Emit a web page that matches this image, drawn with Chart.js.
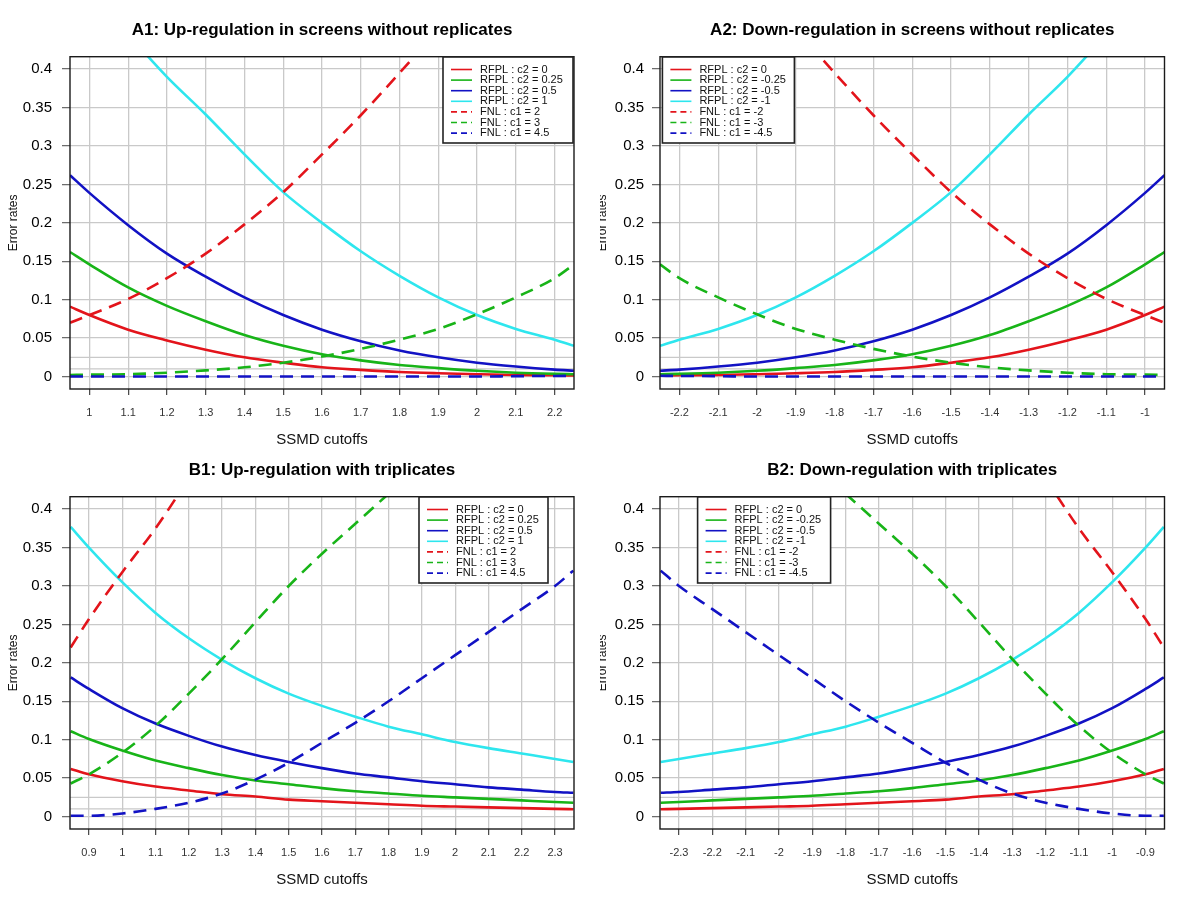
<!DOCTYPE html>
<html>
<head>
<meta charset="utf-8">
<script src="https://cdn.jsdelivr.net/npm/chart.js@4.4.1/dist/chart.umd.min.js"></script>
<style>
  html, body { margin: 0; padding: 0; background: #fff; }
  #wrap { position: relative; width: 1200px; height: 900px; }
  canvas { position: absolute; }
</style>
</head>
<body>
<div id="wrap">
  <canvas id="a1" width="600" height="450" style="left:0;top:0"></canvas>
  <canvas id="a2" width="600" height="450" style="left:600px;top:0"></canvas>
  <canvas id="b1" width="600" height="450" style="left:0;top:450px"></canvas>
  <canvas id="b2" width="600" height="450" style="left:600px;top:450px"></canvas>
</div>
<script>
// ══ DATA ═════════════════════════════════════════════════════════
const yTicks = [0, 0.05, 0.1, 0.15, 0.2, 0.25, 0.3, 0.35, 0.4];
const refLevels = [0.01, 0.025];

const xTicksA1 = [1, 1.1, 1.2, 1.3, 1.4, 1.5, 1.6, 1.7, 1.8, 1.9, 2, 2.1, 2.2];
const xTicksA2 = [-2.2, -2.1, -2, -1.9, -1.8, -1.7, -1.6, -1.5, -1.4, -1.3, -1.2, -1.1, -1];
const xTicksB1 = [0.9, 1, 1.1, 1.2, 1.3, 1.4, 1.5, 1.6, 1.7, 1.8, 1.9, 2, 2.1, 2.2, 2.3];
const xTicksB2 = [-2.3, -2.2, -2.1, -2, -1.9, -1.8, -1.7, -1.6, -1.5, -1.4, -1.3, -1.2, -1.1, -1, -0.9];

const labelsUp = ['RFPL : c2 = 0', 'RFPL : c2 = 0.25', 'RFPL : c2 = 0.5', 'RFPL : c2 = 1',
                  'FNL : c1 = 2', 'FNL : c1 = 3', 'FNL : c1 = 4.5'];
const labelsDown = ['RFPL : c2 = 0', 'RFPL : c2 = -0.25', 'RFPL : c2 = -0.5', 'RFPL : c2 = -1',
                    'FNL : c1 = -2', 'FNL : c1 = -3', 'FNL : c1 = -4.5'];

// A1: up-regulation, no replicates
const xA1 = [0.95, 1.0, 1.1, 1.2, 1.3, 1.4, 1.5, 1.6, 1.7, 1.8, 1.9, 2.0, 2.1, 2.2, 2.25];
const a1Rfpl0   = [0.091, 0.080, 0.061, 0.047, 0.035, 0.025, 0.018, 0.012, 0.0087, 0.006, 0.0043, 0.003, 0.002, 0.0017, 0.0015];
const a1Rfpl025 = [0.162, 0.146, 0.116, 0.092, 0.072, 0.054, 0.040, 0.029, 0.021, 0.015, 0.011, 0.0075, 0.005, 0.0035, 0.003];
const a1Rfpl05  = [0.262, 0.239, 0.197, 0.160, 0.130, 0.103, 0.080, 0.061, 0.046, 0.034, 0.025, 0.018, 0.013, 0.009, 0.0075];
const a1Rfpl1   = [null, null, 0.445, 0.390, 0.341, 0.289, 0.240, 0.200, 0.163, 0.131, 0.103, 0.080, 0.062, 0.048, 0.040];
const a1Fnl2    = [0.070, 0.080, 0.101, 0.128, 0.160, 0.198, 0.240, 0.289, 0.340, 0.395, 0.452, null, null, null, null];
const a1Fnl3    = [0.002, 0.0025, 0.003, 0.005, 0.008, 0.012, 0.018, 0.026, 0.036, 0.048, 0.062, 0.081, 0.103, 0.128, 0.146];
const a1Fnl45   = [0, 0, 0, 0, 0, 0, 0, 0, 0, 0, 0, 0, 0.0005, 0.0008, 0.001];

// A2: down-regulation, no replicates
const xA2 = [-2.25, -2.2, -2.1, -2.0, -1.9, -1.8, -1.7, -1.6, -1.5, -1.4, -1.3, -1.2, -1.1, -1.0, -0.95];
const a2Rfpl0   = [0.0015, 0.0017, 0.002, 0.003, 0.0043, 0.006, 0.0087, 0.012, 0.018, 0.025, 0.035, 0.047, 0.061, 0.080, 0.091];
const a2Rfpl025 = [0.003, 0.0035, 0.005, 0.0075, 0.011, 0.015, 0.021, 0.029, 0.040, 0.054, 0.072, 0.092, 0.116, 0.146, 0.162];
const a2Rfpl05  = [0.0075, 0.009, 0.013, 0.018, 0.025, 0.034, 0.046, 0.061, 0.080, 0.103, 0.130, 0.160, 0.197, 0.239, 0.262];
const a2Rfpl1   = [0.040, 0.048, 0.062, 0.080, 0.103, 0.131, 0.163, 0.200, 0.240, 0.289, 0.341, 0.390, 0.445, null, null];
const a2Fnl2    = [null, null, null, null, 0.452, 0.395, 0.340, 0.289, 0.240, 0.198, 0.160, 0.128, 0.101, 0.080, 0.070];
const a2Fnl3    = [0.146, 0.128, 0.103, 0.081, 0.062, 0.048, 0.036, 0.026, 0.018, 0.012, 0.008, 0.005, 0.003, 0.0025, 0.002];
const a2Fnl45   = [0.001, 0.0008, 0.0005, 0, 0, 0, 0, 0, 0, 0, 0, 0, 0, 0, 0];

// B1: up-regulation, triplicates
const xB1 = [0.845, 0.9, 1.0, 1.1, 1.2, 1.3, 1.4, 1.5, 1.6, 1.7, 1.8, 1.9, 2.0, 2.1, 2.2, 2.3, 2.355];
const b1Rfpl0   = [0.062, 0.055, 0.046, 0.039, 0.034, 0.029, 0.026, 0.022, 0.020, 0.018, 0.016, 0.014, 0.013, 0.012, 0.011, 0.010, 0.0095];
const b1Rfpl025 = [0.111, 0.101, 0.086, 0.073, 0.063, 0.054, 0.047, 0.042, 0.037, 0.033, 0.030, 0.027, 0.025, 0.023, 0.021, 0.019, 0.018];
const b1Rfpl05  = [0.181, 0.166, 0.141, 0.121, 0.105, 0.091, 0.080, 0.071, 0.063, 0.056, 0.051, 0.046, 0.042, 0.038, 0.035, 0.032, 0.031];
const b1Rfpl1   = [0.377, 0.350, 0.305, 0.265, 0.232, 0.204, 0.180, 0.160, 0.144, 0.130, 0.117, 0.107, 0.097, 0.089, 0.082, 0.075, 0.071];
const b1Fnl2    = [0.220, 0.257, 0.318, 0.375, 0.440, null, null, null, null, null, null, null, null, null, null, null, null];
const b1Fnl3    = [0.043, 0.055, 0.083, 0.118, 0.160, 0.205, 0.253, 0.300, 0.342, 0.381, 0.420, null, null, null, null, null, null];
const b1Fnl45   = [0.001, 0.001, 0.004, 0.010, 0.018, 0.030, 0.048, 0.070, 0.096, 0.122, 0.150, 0.180, 0.210, 0.240, 0.270, 0.300, 0.320];

// B2: down-regulation, triplicates
const xB2 = [-2.355, -2.3, -2.2, -2.1, -2.0, -1.9, -1.8, -1.7, -1.6, -1.5, -1.4, -1.3, -1.2, -1.1, -1.0, -0.9, -0.845];
const b2Rfpl0   = [0.0095, 0.010, 0.011, 0.012, 0.013, 0.014, 0.016, 0.018, 0.020, 0.022, 0.026, 0.029, 0.034, 0.039, 0.046, 0.055, 0.062];
const b2Rfpl025 = [0.018, 0.019, 0.021, 0.023, 0.025, 0.027, 0.030, 0.033, 0.037, 0.042, 0.047, 0.054, 0.063, 0.073, 0.086, 0.101, 0.111];
const b2Rfpl05  = [0.031, 0.032, 0.035, 0.038, 0.042, 0.046, 0.051, 0.056, 0.063, 0.071, 0.080, 0.091, 0.105, 0.121, 0.141, 0.166, 0.181];
const b2Rfpl1   = [0.071, 0.075, 0.082, 0.089, 0.097, 0.107, 0.117, 0.130, 0.144, 0.160, 0.180, 0.204, 0.232, 0.265, 0.305, 0.350, 0.377];
const b2Fnl2    = [null, null, null, null, null, null, null, null, null, null, null, null, 0.440, 0.375, 0.318, 0.257, 0.220];
const b2Fnl3    = [null, null, null, null, null, null, 0.420, 0.381, 0.342, 0.300, 0.253, 0.205, 0.160, 0.118, 0.083, 0.055, 0.043];
const b2Fnl45   = [0.320, 0.300, 0.270, 0.240, 0.210, 0.180, 0.150, 0.122, 0.096, 0.070, 0.048, 0.030, 0.018, 0.010, 0.004, 0.001, 0.001];

// ══ STYLE ════════════════════════════════════════════════════════
const FONT = '"Liberation Sans", Arial, Helvetica, sans-serif';
const seriesColors = ['#e3141b', '#18b418', '#1212c4', '#2ee6ee', '#e3141b', '#18b418', '#1212c4'];
const seriesDashed = [false, false, false, false, true, true, true];
const gridColor = '#c9c9c9';

function pts(xs, ys) {
  return xs.map((x, i) => ({ x: x, y: ys[i] }));
}

const framePlugin = {
  id: 'frame',
  afterDatasetsDraw(chart) {
    const a = chart.chartArea, ctx = chart.ctx;
    ctx.save();
    ctx.strokeStyle = '#1a1a1a';
    ctx.lineWidth = 1.4;
    ctx.strokeRect(a.left, a.top, a.right - a.left, a.bottom - a.top);
    ctx.restore();
  }
};

const boxLegend = {
  id: 'boxLegend',
  afterDatasetsDraw(chart, args, o) {
    const ctx = chart.ctx;
    const items = chart.data.datasets.filter(d => d.label);
    ctx.save();
    ctx.fillStyle = '#fff';
    ctx.fillRect(o.x, o.y, o.w, o.h);
    ctx.strokeStyle = '#222';
    ctx.lineWidth = 1.6;
    ctx.strokeRect(o.x, o.y, o.w, o.h);
    ctx.font = '11px ' + FONT;
    ctx.textBaseline = 'middle';
    items.forEach((d, i) => {
      const y = o.y + 12.5 + i * 10.6;
      ctx.strokeStyle = d.borderColor;
      ctx.lineWidth = 1.6;
      ctx.setLineDash(d.borderDash.length ? [6, 4] : []);
      ctx.beginPath();
      ctx.moveTo(o.x + 8, y);
      ctx.lineTo(o.x + 29, y);
      ctx.stroke();
      ctx.setLineDash([]);
      ctx.fillStyle = '#111';
      ctx.fillText(d.label, o.x + 37, y);
    });
    ctx.restore();
  }
};

function makePanel(id, p) {
  const datasets = p.series.map((ys, i) => ({
    label: p.labels[i],
    data: pts(p.xs, ys),
    borderColor: seriesColors[i],
    borderWidth: 2.6,
    borderDash: seriesDashed[i] ? [13, 8] : [],
    borderCapStyle: 'butt',
    pointRadius: 0,
    cubicInterpolationMode: 'monotone',
    spanGaps: false,
    clip: 0,
    order: -i
  }));
  refLevels.forEach(v => {
    datasets.push({
      data: [{ x: p.xMin, y: v }, { x: p.xMax, y: v }],
      borderColor: gridColor, borderWidth: 1.3, pointRadius: 0, clip: 0, order: 10
    });
  });

  return new Chart(document.getElementById(id), {
    type: 'line',
    data: { datasets },
    plugins: [framePlugin, boxLegend],
    options: {
      responsive: false,
      animation: false,
      events: [],
      layout: { padding: { left: 0, right: p.padRight, top: 0, bottom: p.padBottom } },
      plugins: {
        legend: { display: false },
        tooltip: { enabled: false },
        title: {
          display: true, text: p.title, fullSize: false, color: '#000',
          font: { family: FONT, size: 17, weight: 'bold' },
          padding: { top: p.titleTop, bottom: 16.5 }
        },
        boxLegend: p.legend
      },
      scales: {
        x: {
          type: 'linear', min: p.xMin, max: p.xMax,
          afterBuildTicks: s => { s.ticks = p.xTicks.map(v => ({ value: v })); },
          afterFit: s => { s.height = 61; },
          grid: { color: gridColor, lineWidth: 1.3, tickLength: 6, tickColor: '#444', tickWidth: 1.2 },
          border: { display: false },
          ticks: {
            autoSkip: false, maxRotation: 0, padding: 11, color: '#333',
            font: { family: FONT, size: 11 },
            callback: v => String(+v.toFixed(2))
          },
          title: {
            display: true, text: 'SSMD cutoffs', color: '#111',
            font: { family: FONT, size: 15 }, padding: { top: 0, bottom: 1 }
          }
        },
        y: {
          type: 'linear', min: -0.0162, max: 0.4162,
          afterBuildTicks: s => { s.ticks = yTicks.map(v => ({ value: v })); },
          afterFit: s => { s.width = p.yWidth; },
          grid: { color: gridColor, lineWidth: 1.3, tickLength: 8, tickColor: '#666', tickWidth: 1.2 },
          border: { display: false },
          ticks: {
            padding: p.yPad, color: '#000',
            font: { family: FONT, size: 15 },
            callback: v => String(+v.toFixed(2))
          },
          title: {
            display: true, text: 'Error rates', color: '#111',
            font: { family: FONT, size: 12 }, padding: { top: p.yTitlePad, bottom: 0 }
          }
        }
      }
    }
  });
}

makePanel('a1', {
  title: 'A1: Up-regulation in screens without replicates',
  xs: xA1, series: [a1Rfpl0, a1Rfpl025, a1Rfpl05, a1Rfpl1, a1Fnl2, a1Fnl3, a1Fnl45],
  labels: labelsUp, xMin: 0.95, xMax: 2.25, xTicks: xTicksA1,
  padRight: 26, padBottom: 0, titleTop: 19.8, yWidth: 70, yPad: 10, yTitlePad: 6.2,
  legend: { x: 443, y: 57, w: 130, h: 86 }
});

makePanel('a2', {
  title: 'A2: Down-regulation in screens without replicates',
  xs: xA2, series: [a2Rfpl0, a2Rfpl025, a2Rfpl05, a2Rfpl1, a2Fnl2, a2Fnl3, a2Fnl45],
  labels: labelsDown, xMin: -2.25, xMax: -0.95, xTicks: xTicksA2,
  padRight: 35.5, padBottom: 0, titleTop: 19.8, yWidth: 60, yPad: 8, yTitlePad: -4.7,
  legend: { x: 62.4, y: 57, w: 132, h: 86 }
});

makePanel('b1', {
  title: 'B1: Up-regulation with triplicates',
  xs: xB1, series: [b1Rfpl0, b1Rfpl025, b1Rfpl05, b1Rfpl1, b1Fnl2, b1Fnl3, b1Fnl45],
  labels: labelsUp, xMin: 0.843, xMax: 2.357, xTicks: xTicksB1,
  padRight: 26, padBottom: 10, titleTop: 9.8, yWidth: 70, yPad: 10, yTitlePad: 6.2,
  legend: { x: 419, y: 47, w: 129, h: 86 }
});

makePanel('b2', {
  title: 'B2: Down-regulation with triplicates',
  xs: xB2, series: [b2Rfpl0, b2Rfpl025, b2Rfpl05, b2Rfpl1, b2Fnl2, b2Fnl3, b2Fnl45],
  labels: labelsDown, xMin: -2.357, xMax: -0.843, xTicks: xTicksB2,
  padRight: 35.5, padBottom: 10, titleTop: 9.8, yWidth: 60, yPad: 8, yTitlePad: -4.7,
  legend: { x: 97.6, y: 47, w: 133, h: 86 }
});
</script>
</body>
</html>
